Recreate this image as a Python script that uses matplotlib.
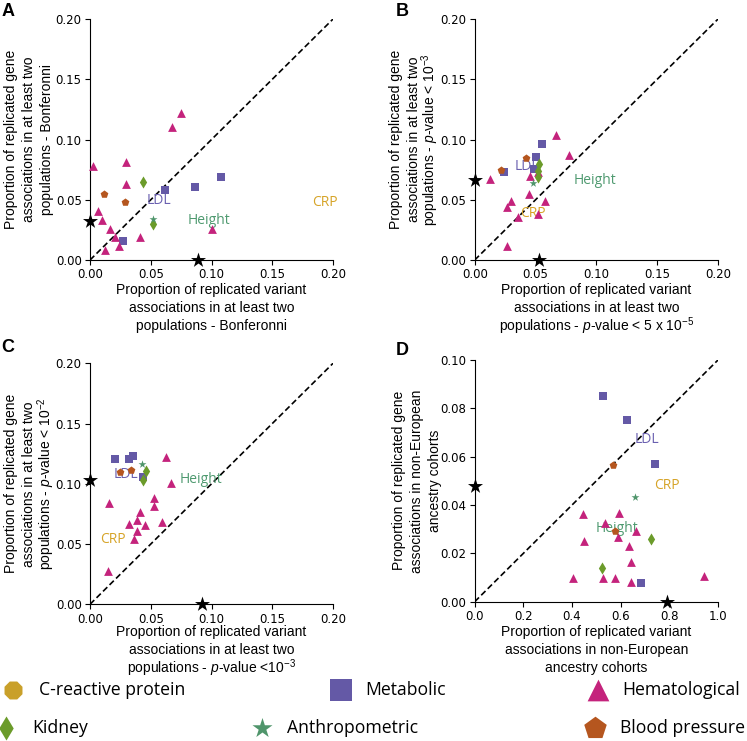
import numpy as np
import matplotlib
matplotlib.use("Agg")
import matplotlib.pyplot as plt

plt.rcParams['mathtext.fontset'] = 'custom'
plt.rcParams['mathtext.rm'] = 'Liberation Sans'
plt.rcParams['mathtext.it'] = 'Liberation Sans:italic'

# colours / markers of the trait groups
groups = ["C-reactive protein", "Metabolic", "Hematological", "Kidney", "Anthropometric", "Blood pressure"]
markers = ["8", "s", "^", "d", "*", "p"]
colors = ["#c9a02a", "#6459a6", "#c4237c", "#6b9b2a", "#4f956b", "#b5561f"]
sizes = [34, 34, 40, 38, 36, 34]

# panel A (Bonferonni)
a_crp = []
a_met = [(0.0274, 0.0158), (0.062, 0.0578), (0.0866, 0.061), (0.1077, 0.069)]
a_hem = [(0.0745, 0.1217), (0.0674, 0.1107), (0.0025, 0.078), (0.030, 0.081), (0.030, 0.063),
         (0.0068, 0.041), (0.0099, 0.033), (0.0167, 0.0254), (0.0203, 0.0194), (0.024, 0.012),
         (0.0126, 0.0083), (0.041, 0.0188), (0.100, 0.0254)]
a_kid = [(0.0438, 0.065), (0.052, 0.030)]
a_ant = [(0.0515, 0.034)]
a_bp = [(0.0112, 0.0548), (0.0285, 0.0484)]
a_mean = [(0.0, 0.0326), (0.089, 0.0)]
a_text = [("LDL", 0.057, 0.0498), ("Height", 0.098, 0.033), ("CRP", 0.193, 0.048)]

# panel B (p < 5e-5 / 1e-3)
b_crp = []
b_met = [(0.0555, 0.096), (0.0506, 0.0852), (0.0485, 0.0752), (0.0238, 0.0727)]
b_hem = [(0.0665, 0.1037), (0.0777, 0.0869), (0.0126, 0.0672), (0.0457, 0.0697), (0.052, 0.073),
         (0.0449, 0.0545), (0.0298, 0.0492), (0.0263, 0.044), (0.0356, 0.0354), (0.052, 0.0382),
         (0.058, 0.0492), (0.0268, 0.0119)]
b_kid = [(0.0525, 0.0797), (0.0522, 0.074), (0.052, 0.069)]
b_ant = [(0.0476, 0.0642)]
b_bp = [(0.0424, 0.0844), (0.0213, 0.0747)]
b_mean = [(0.0, 0.066), (0.053, 0.0)]
b_text = [("LDL", 0.043, 0.0775), ("Height", 0.0985, 0.0664), ("CRP", 0.0476, 0.0387)]

# panel C (p < 1e-3 / 1e-2)
c_crp = []
c_met = [(0.0208, 0.1203), (0.032, 0.1203), (0.035, 0.123), (0.0433, 0.1059)]
c_hem = [(0.0627, 0.1219), (0.0663, 0.1009), (0.0153, 0.0844), (0.0527, 0.088), (0.0527, 0.0817),
         (0.041, 0.0765), (0.039, 0.0698), (0.0322, 0.0665), (0.0453, 0.0658), (0.0589, 0.0684),
         (0.0388, 0.0607), (0.0359, 0.054), (0.0151, 0.0277)]
c_kid = [(0.0463, 0.1108), (0.0432, 0.1028)]
c_ant = [(0.0425, 0.1162)]
c_bp = [(0.0247, 0.1098), (0.0334, 0.1115)]
c_mean = [(0.0, 0.1032), (0.0918, 0.0)]
c_text = [("LDL", 0.0296, 0.108), ("Height", 0.0915, 0.1037), ("CRP", 0.0186, 0.0534)]

# panel D (non-European cohorts)
d_crp = []
d_met = [(0.527, 0.0851), (0.624, 0.0752), (0.742, 0.0569), (0.682, 0.0076)]
d_hem = [(0.446, 0.0362), (0.594, 0.0366), (0.536, 0.0324), (0.663, 0.0293), (0.589, 0.0269),
         (0.449, 0.0251), (0.634, 0.023), (0.642, 0.0164), (0.405, 0.0099), (0.526, 0.0099),
         (0.577, 0.0099), (0.641, 0.0082), (0.944, 0.0108)]
d_kid = [(0.726, 0.0258), (0.525, 0.0138)]
d_ant = [(0.658, 0.0435)]
d_bp = [(0.568, 0.0564), (0.575, 0.0293)]
d_mean = [(0.0, 0.0478), (0.79, 0.0)]
d_text = [("LDL", 0.707, 0.0673), ("Height", 0.584, 0.0303), ("CRP", 0.792, 0.048)]

text_colors = {"LDL": "#6a60b0", "Height": "#4f9a70", "CRP": "#d6a428"}

xl_start = ["Proportion of replicated variant", "associations in at least two"]
yl_start = ["Proportion of replicated gene", "associations in at least two"]
panels = [
    ("A", [0.1205, 0.6491, 0.3253, 0.3252], 0.2, [a_crp, a_met, a_hem, a_kid, a_ant, a_bp], a_mean, a_text,
     xl_start + ["populations - Bonferonni"], yl_start + ["populations - Bonferonni"],
     (8, 12), [34, 52, 70], [75, 57, 39]),
    ("B", [0.6355, 0.6491, 0.3257, 0.3252], 0.2, [b_crp, b_met, b_hem, b_kid, b_ant, b_bp], b_mean, b_text,
     xl_start + [r"populations - $\it{p}$-value < 5 x 10$^{-5}$"],
     yl_start + [r"populations - $\it{p}$-value < 10$^{-3}$"],
     (402, 12), [34, 52, 71], [75, 57, 39.5]),
    ("C", [0.1205, 0.1845, 0.3253, 0.3252], 0.2, [c_crp, c_met, c_hem, c_kid, c_ant, c_bp], c_mean, c_text,
     xl_start + [r"populations - $\it{p}$-value <10$^{-3}$"],
     yl_start + [r"populations - $\it{p}$-value < 10$^{-2}$"],
     (8, 348), [32, 50, 69], [75, 57, 39]),
    ("D", [0.6355, 0.188, 0.3257, 0.3262], None, [d_crp, d_met, d_hem, d_kid, d_ant, d_bp], d_mean, d_text,
     ["Proportion of replicated variant", "associations in non-European", "ancestry cohorts"],
     ["Proportion of replicated gene", "associations in non-European", "ancestry cohorts"],
     (402, 351), [34, 52, 70], [72, 54, 36]),
]

W, H = 747, 741
fig = plt.figure(figsize=(W / 100, H / 100), dpi=100)

for letter, pos, lim, data, mean, texts, xlab, ylab, lpos, xoff, yoff in panels:
    ax = fig.add_axes(pos)
    if lim is None:
        xmax, ymax = 1.0, 0.1
        ax.set_xticks(np.arange(0, 1.01, 0.2))
        ax.set_yticks(np.arange(0, 0.101, 0.02))
        ax.xaxis.set_major_formatter("{x:.1f}")
        ax.yaxis.set_major_formatter("{x:.2f}")
    else:
        xmax, ymax = lim, lim
        ax.set_xticks(np.arange(0, 0.201, 0.05))
        ax.set_yticks(np.arange(0, 0.201, 0.05))
        ax.xaxis.set_major_formatter("{x:.2f}")
        ax.yaxis.set_major_formatter("{x:.2f}")
    ax.set_xlim(0, xmax)
    ax.set_ylim(0, ymax)
    ax.plot([0, xmax], [0, ymax], ls=(0, (3.6, 1.9)), color="black", lw=1.2, zorder=1)
    for t, tx, ty in texts:
        ax.text(tx, ty, t, color=text_colors[t], fontsize=10, family="Open Sans",
                ha="center", va="center", zorder=1)
    for pts, m, c, s in zip(data, markers, colors, sizes):
        if len(pts) == 0:
            continue
        xs, ys = zip(*pts)
        ax.scatter(xs, ys, marker=m, c=c, s=s, linewidths=0, zorder=3, clip_on=False)
    mx, my = zip(*mean)
    ax.scatter(mx, my, marker="*", c="black", s=130, zorder=4, clip_on=False, linewidths=0)
    ax.spines["top"].set_visible(False)
    ax.spines["right"].set_visible(False)
    ax.tick_params(labelsize=8.5, length=3.5, pad=2.5)

    # axis titles, one line at a time so that superscripts don't shift the lines
    x_mid = pos[0] + pos[2] / 2
    y_mid = pos[1] + pos[3] / 2
    for line, off in zip(xlab, xoff):
        fig.text(x_mid, pos[1] - off / H, line, fontsize=10, family="Liberation Sans",
                 ha="center", va="baseline")
    for line, off in zip(ylab, yoff):
        fig.text(pos[0] - off / W, y_mid, line, fontsize=10, family="Liberation Sans",
                 ha="center", va="baseline", rotation=90, rotation_mode="anchor")
    fig.text(lpos[0] / W, 1 - lpos[1] / H, letter,
             fontsize=13, fontweight="bold", family="Liberation Sans", ha="center", va="center")

# legend drawn by hand at the bottom
leg = fig.add_axes([0, 0, 1, 1])
leg.set_xlim(0, W)
leg.set_ylim(H, 0)
leg.axis("off")
leg_pos = [(13, 690, 39), (341, 690, 365), (598, 690, 622), (6, 728, 32), (262, 728, 287), (595, 728, 620)]
leg_sizes = [196, 245, 245, 150, 230, 290]
for g, m, c, s, (mx_, my_, tx_) in zip(groups, markers, colors, leg_sizes, leg_pos):
    leg.scatter([mx_], [my_], marker=m, c=c, s=s, linewidths=0)
    leg.text(tx_, my_, g, fontsize=12.7, family="Open Sans", va="center", ha="left")

fig.savefig("out.png", dpi=100)
